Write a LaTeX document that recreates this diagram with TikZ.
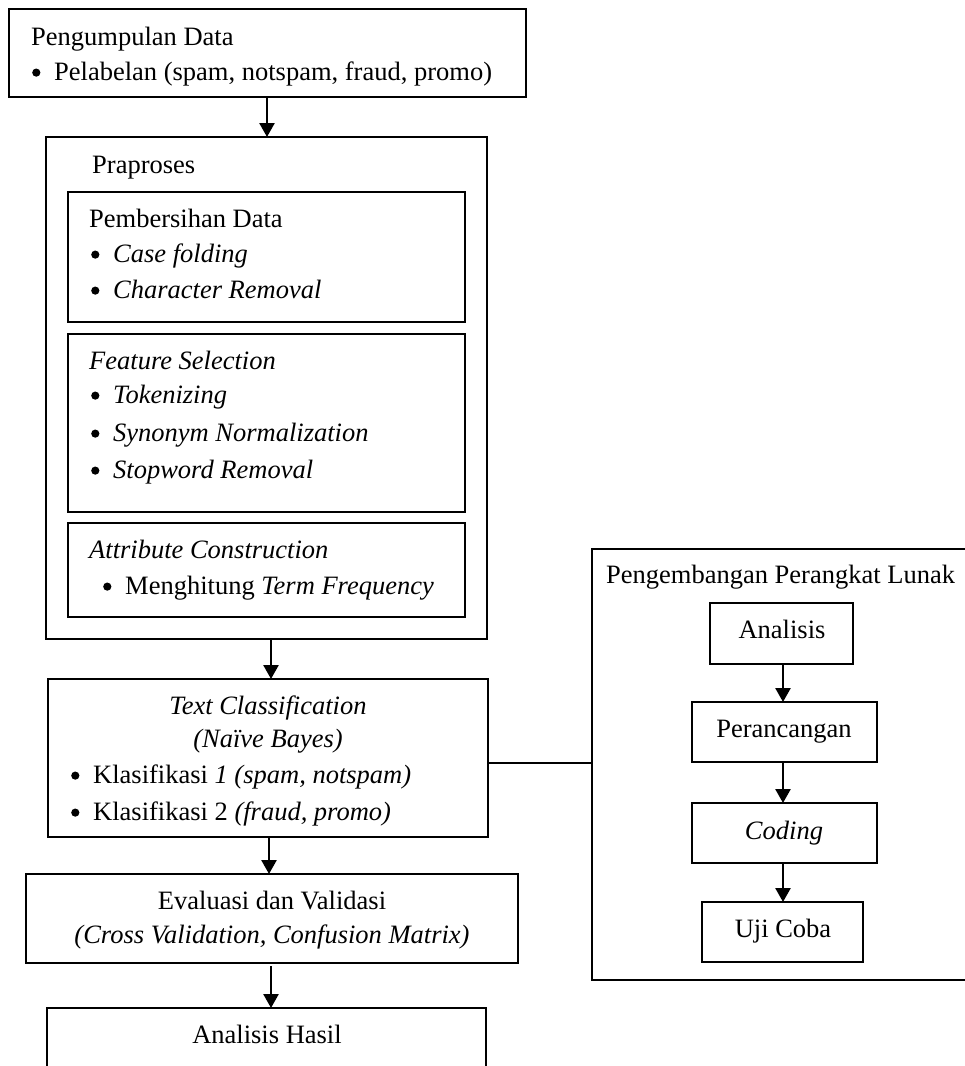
\documentclass[tikz,border=0pt]{standalone}
\usepackage{fontspec}
\setmainfont{Liberation Serif}
\usetikzlibrary{arrows.meta}
\newcommand\mybul{\makebox[22pt][l]{\tikz[x=1pt,y=1pt,baseline=0pt]\fill (4.2,7.4) circle[radius=4.1pt];}}
\begin{document}
\begin{tikzpicture}[x=1pt,y=-1pt,
  box/.style={draw, line width=2.6pt, rectangle, inner sep=0pt, outer sep=0pt, anchor=north west},
  txt/.style={inner sep=0pt, anchor=base west, font=\fontsize{26.5}{32}\selectfont},
  ctxt/.style={txt, anchor=base},
  arr/.style={line width=2.6pt, -{Triangle[width=15pt,length=14pt]}},
  link/.style={line width=1.2pt}]
\clip (0,0) rectangle (965,1066);
\fill[white] (0,0) rectangle (965,1066);
% ---------- left column boxes
\node[box, minimum width=517pt, minimum height=88pt]  (top)  at (9,9) {};
\node[box, minimum width=441pt, minimum height=502pt] (prap) at (46,137) {};
\node[box, minimum width=397pt, minimum height=130pt] (pemb) at (68,192) {};
\node[box, minimum width=397pt, minimum height=178pt] (feat) at (68,334) {};
\node[box, minimum width=397pt, minimum height=94pt]  (attr) at (68,523) {};
\node[box, minimum width=440pt, minimum height=158pt] (tc)   at (48,679) {};
\node[box, minimum width=492pt, minimum height=89pt]  (eval) at (26,874) {};
\node[box, minimum width=439pt, minimum height=120pt] (hasil) at (47,1008) {};
% ---------- right column boxes
\node[box, minimum width=420pt, minimum height=431pt] (sw)  at (592,549) {};
\node[box, minimum width=143pt, minimum height=61pt]  (an)  at (710,603) {};
\node[box, minimum width=185pt, minimum height=60pt]  (per) at (692,702) {};
\node[box, minimum width=185pt, minimum height=60pt]  (cod) at (692,803) {};
\node[box, minimum width=161pt, minimum height=60pt]  (uji) at (702,902) {};
% ---------- texts
\node[txt] (t1) at (31,45) {Pengumpulan Data};
\node[txt] (t2) at (32,80) {\mybul Pelabelan (spam, notspam, fraud, promo)};
\node[txt] (t3) at (92,173) {Praproses};
\node[txt] (t4) at (89,227) {Pembersihan Data};
\node[txt] (t5) at (91,262) {\mybul\textit{Case folding}};
\node[txt] (t6) at (91,298) {\mybul\textit{Character Removal}};
\node[txt] (t7) at (89,369) {\textit{Feature Selection}};
\node[txt] (t8) at (91,403) {\mybul\textit{Tokenizing}};
\node[txt] (t9) at (91,441) {\mybul\textit{Synonym Normalization}};
\node[txt] (t10) at (91,478) {\mybul\textit{Stopword Removal}};
\node[txt] (t11) at (89,558) {\textit{Attribute Construction}};
\node[txt] (t12) at (103,594) {\mybul Menghitung \textit{Term Frequency}};
\node[ctxt] (t13) at (268,714) {\textit{Text Classification}};
\node[ctxt] (t14) at (268,747) {\textit{(Naïve Bayes)}};
\node[txt] (t15) at (71,783) {\mybul Klasifikasi \textit{1 (spam, notspam)}};
\node[txt] (t16) at (71,820) {\mybul Klasifikasi 2 \textit{(fraud, promo)}};
\node[ctxt] (t17) at (272,909) {Evaluasi dan Validasi};
\node[ctxt] (t18) at (272,943) {\textit{(Cross Validation, Confusion Matrix)}};
\node[ctxt] (t19) at (267,1043) {Analisis Hasil};
\node[txt] (t20) at (606,583) {Pengembangan Perangkat Lunak};
\node[ctxt] (t21) at (782,638) {Analisis};
\node[ctxt] (t22) at (784,737) {Perancangan};
\node[ctxt] (t23) at (784,839) {\textit{Coding}};
\node[ctxt] (t24) at (783,937) {Uji Coba};
% ---------- connectors
\draw[arr] (top.south -| 267,0) -- (prap.north -| 267,0);
\draw[arr] (prap.south -| 271,0) -- (tc.north -| 271,0);
\draw[arr] (tc.south -| 269,0) -- (eval.north -| 269,0);
\draw[arr] ([yshift=-3pt]eval.south -| 271,0) -- (hasil.north -| 271,0);
\draw[arr] (an.south -| 783,0) -- (per.north -| 783,0);
\draw[arr] (per.south -| 783,0) -- (cod.north -| 783,0);
\draw[arr] (cod.south -| 783,0) -- (uji.north -| 783,0);
\draw[link] ([yshift=-5pt]tc.east) -- ([yshift=-5pt]tc.east -| sw.west);
\end{tikzpicture}
\end{document}
